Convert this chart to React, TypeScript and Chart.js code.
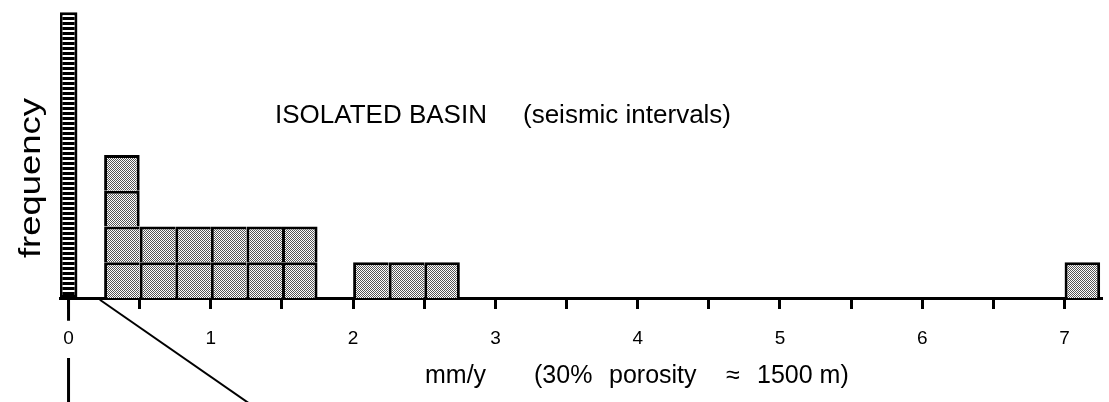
import React, { useEffect, useRef } from 'react';
import { Chart, registerables } from 'chart.js';

Chart.register(...registerables);

// ---- data ----
const binCenters = [0.375, 0.625, 0.875, 1.125, 1.375, 1.625, 2.125, 2.375, 2.625, 7.125];
const binCounts = [4, 2, 2, 2, 2, 2, 1, 1, 1, 1];
const binWidth = 0.25;
const zeroBarX = [0];
const zeroBarCount = [8];
const xTickLabels = ['0', '1', '2', '3', '4', '5', '6', '7'];
const titleMain = 'ISOLATED BASIN';
const titleSub = '(seismic intervals)';
const yTitle = 'frequency';
const xTitleParts = ['mm/y', '(30%', 'porosity', '≈', '1500 m)'];
// guide lines leading to the next (inset) panel, in data units
const guideZeroTick = [{ x: 0, y: 0 }, { x: 0, y: -0.64 }];
const guideVertical = [{ x: 0, y: -1.68 }, { x: 0, y: -3.3 }];
const guideDiagonal = [{ x: 0.22, y: -0.05 }, { x: 1.36, y: -3.2 }];

const FONT = '"Liberation Sans", Arial, Helvetica, sans-serif';

function makeStipple(): CanvasPattern | string {
  const c = document.createElement('canvas');
  c.width = 2;
  c.height = 2;
  const g = c.getContext('2d');
  if (!g) return '#aaa';
  g.fillStyle = '#fff';
  g.fillRect(0, 0, 2, 2);
  g.fillStyle = '#555';
  g.fillRect(0, 0, 1, 1);
  g.fillRect(1, 1, 1, 1);
  return g.createPattern(c, 'repeat') || '#aaa';
}

function makeStripes(): CanvasPattern | string {
  const c = document.createElement('canvas');
  c.width = 4;
  c.height = 5;
  const g = c.getContext('2d');
  if (!g) return '#555';
  g.fillStyle = '#000';
  g.fillRect(0, 0, 4, 5);
  g.fillStyle = '#fff';
  g.fillRect(0, 0, 4, 2);
  return g.createPattern(c, 'repeat') || '#555';
}

const textPlugin = {
  id: 'figureTexts',
  afterDraw(chart: any) {
    const ctx = chart.ctx as CanvasRenderingContext2D;
    ctx.save();
    ctx.fillStyle = '#000';
    ctx.textBaseline = 'alphabetic';
    ctx.textAlign = 'left';
    ctx.font = `26px ${FONT}`;
    ctx.fillText(titleMain, 275, 123);
    ctx.fillText(titleSub, 523, 123);

    ctx.font = `25px ${FONT}`;
    const xs = [425, 534, 609, 726, 757];
    xTitleParts.forEach((t, i) => ctx.fillText(t, xs[i], 383));

    ctx.save();
    ctx.translate(40, 178);
    ctx.rotate(-Math.PI / 2);
    ctx.font = `29px ${FONT}`;
    const w = ctx.measureText(yTitle).width;
    ctx.scale(160 / w, 1);
    ctx.textAlign = 'center';
    ctx.fillText(yTitle, 0, 0);
    ctx.restore();

    ctx.restore();
  },
};

export default function App() {
  const ref = useRef<HTMLCanvasElement | null>(null);

  useEffect(() => {
    if (!ref.current) return;
    const stipple = makeStipple();
    const stripes = makeStripes();

    const maxLevel = Math.max(...binCounts);
    const levelSets: any[] = [];
    for (let k = 1; k <= maxLevel; k++) {
      const pts: { x: number; y: number }[] = [];
      binCenters.forEach((c, i) => {
        if (binCounts[i] >= k) pts.push({ x: c, y: 1 });
      });
      const level = k;
      levelSets.push({
        type: 'bar',
        label: `level ${k}`,
        data: pts,
        stack: 'boxes',
        backgroundColor: stipple,
        borderColor: '#000',
        borderSkipped: false,
        borderWidth: (ctx: any) => {
          const x = ctx.raw ? ctx.raw.x : 0;
          const i = binCenters.indexOf(x);
          const hasRight =
            i >= 0 &&
            i + 1 < binCenters.length &&
            Math.abs(binCenters[i + 1] - x - binWidth) < 1e-6 &&
            binCounts[i + 1] >= level;
          return { top: 3, left: 3, bottom: 0, right: hasRight ? 0 : 3 };
        },
        barPercentage: 1,
        categoryPercentage: 1,
        inflateAmount: 0,
      });
    }

    const lineStyle = {
      type: 'line',
      borderColor: '#000',
      pointRadius: 0,
      clip: false,
      fill: false,
      tension: 0,
    };

    const chart = new Chart(ref.current, {
      type: 'bar',
      data: {
        datasets: [
          {
            type: 'bar',
            label: 'zero',
            data: zeroBarX.map((x, i) => ({ x, y: zeroBarCount[i] })),
            stack: 'boxes',
            backgroundColor: stripes,
            borderColor: '#000',
            borderWidth: 3,
            borderSkipped: false,
            barPercentage: 0.5,
            categoryPercentage: 1,
            inflateAmount: 0,
          },
          ...levelSets,
          { ...lineStyle, label: 'g1', data: guideZeroTick, borderWidth: 3, stack: 'g1' },
          { ...lineStyle, label: 'g2', data: guideVertical, borderWidth: 3, stack: 'g2' },
          { ...lineStyle, label: 'g3', data: guideDiagonal, borderWidth: 2, stack: 'g3' },
        ] as any,
      },
      options: {
        animation: false,
        responsive: false,
        devicePixelRatio: 1,
        layout: { padding: { left: 60, right: 7, top: 0, bottom: 0 } },
        plugins: { legend: { display: false }, tooltip: { enabled: false } },
        scales: {
          x: {
            type: 'linear',
            min: -0.06,
            max: 7.263,
            offset: false,
            stacked: true,
            border: { display: true, color: '#000', width: 3 },
            grid: {
              display: true,
              offset: false,
              drawOnChartArea: false,
              drawTicks: true,
              tickLength: 11,
              tickWidth: 3,
              tickColor: '#000',
              color: '#000',
            },
            ticks: {
              stepSize: 0.5,
              includeBounds: false,
              maxTicksLimit: 100,
              autoSkip: false,
              maxRotation: 0,
              padding: 18,
              color: '#000',
              font: { family: FONT, size: 19 },
              callback: (v: any) => {
                const n = Number(v);
                return Number.isInteger(n) && xTickLabels[n] !== undefined ? xTickLabels[n] : '';
              },
            },
            afterFit: (s: any) => {
              s.height = 104;
            },
          },
          y: {
            display: false,
            stacked: true,
            min: 0,
            max: 8.34,
          },
        },
      } as any,
      plugins: [textPlugin],
    });

    return () => chart.destroy();
  }, []);

  return (
    <div style={{ position: 'absolute', left: 0, top: 0, width: 1109, height: 402, background: '#fff' }}>
      <canvas ref={ref} width={1109} height={402} style={{ display: 'block' }} />
    </div>
  );
}
